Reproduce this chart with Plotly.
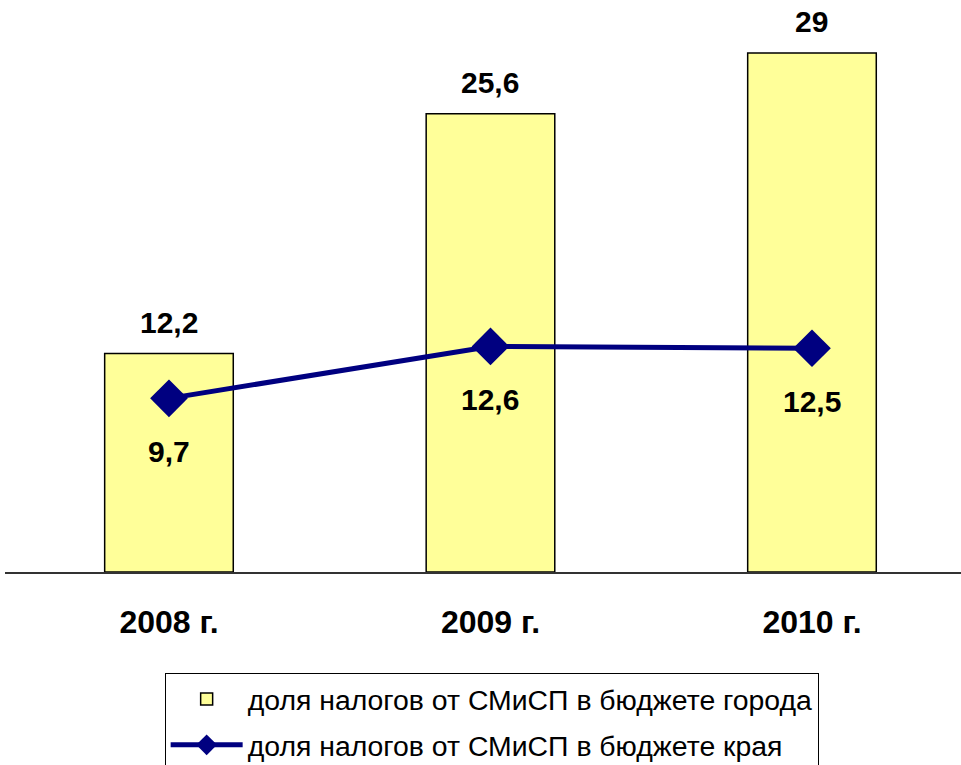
import plotly.graph_objects as go

categories = ["2008 г.", "2009 г.", "2010 г."]
city_share = [12.2, 25.6, 29]
region_share = [9.7, 12.6, 12.5]
series_names = ["доля налогов от СМиСП в бюджете города",
                "доля налогов от СМиСП в бюджете края"]

def fmt(v):
    return f"{v:g}".replace(".", ",")

FONT = "Liberation Sans, Arial, sans-serif"

fig = go.Figure()
fig.add_trace(go.Bar(
    x=categories, y=city_share, name=series_names[0],
    marker=dict(color="#FFFF99", line=dict(color="#000000", width=1.5)),
    width=0.4, legendgroup="a",
))
fig.add_trace(go.Scatter(
    x=categories, y=region_share, name=series_names[1],
    mode="lines+markers",
    line=dict(color="#000080", width=5),
    marker=dict(symbol="diamond", size=29, color="#000080"),
    legendgroup="b",
))

annotations = []
for c, v in zip(categories, city_share):
    annotations.append(dict(x=c, y=v, text=fmt(v), showarrow=False, yshift=31,
                            font=dict(family=FONT, size=30, color="#000000", weight="bold")))
for c, v in zip(categories, region_share):
    annotations.append(dict(x=c, y=v, text=fmt(v), showarrow=False, yshift=-53,
                            font=dict(family=FONT, size=30, color="#000000", weight="bold")))

fig.update_layout(
    width=961, height=765,
    margin=dict(l=5, r=0, t=35, b=193, autoexpand=False),
    paper_bgcolor="white", plot_bgcolor="white",
    font=dict(family=FONT, color="#000000"),
    annotations=annotations,
    showlegend=True,
    legend=dict(
        x=0.167, xanchor="left", y=-0.188, yanchor="top",
        orientation="v", bordercolor="#000000", borderwidth=1, bgcolor="white",
        font=dict(family=FONT, size=28.4, color="#000000"),
        tracegroupgap=6, traceorder="grouped", itemwidth=72,
    ),
    xaxis=dict(
        type="category", range=[-0.51, 2.4635],
        showline=True, linecolor="#333333", linewidth=1.5,
        showgrid=False, ticks="", ticklabelstandoff=21,
        tickfont=dict(family=FONT, size=32, color="#000000", weight="bold"),
    ),
    yaxis=dict(range=[0, 30], visible=False, showgrid=False, zeroline=False),
)

fig.write_html("out.html", config={"displayModeBar": False},
               post_script="document.body.style.margin='0';")
